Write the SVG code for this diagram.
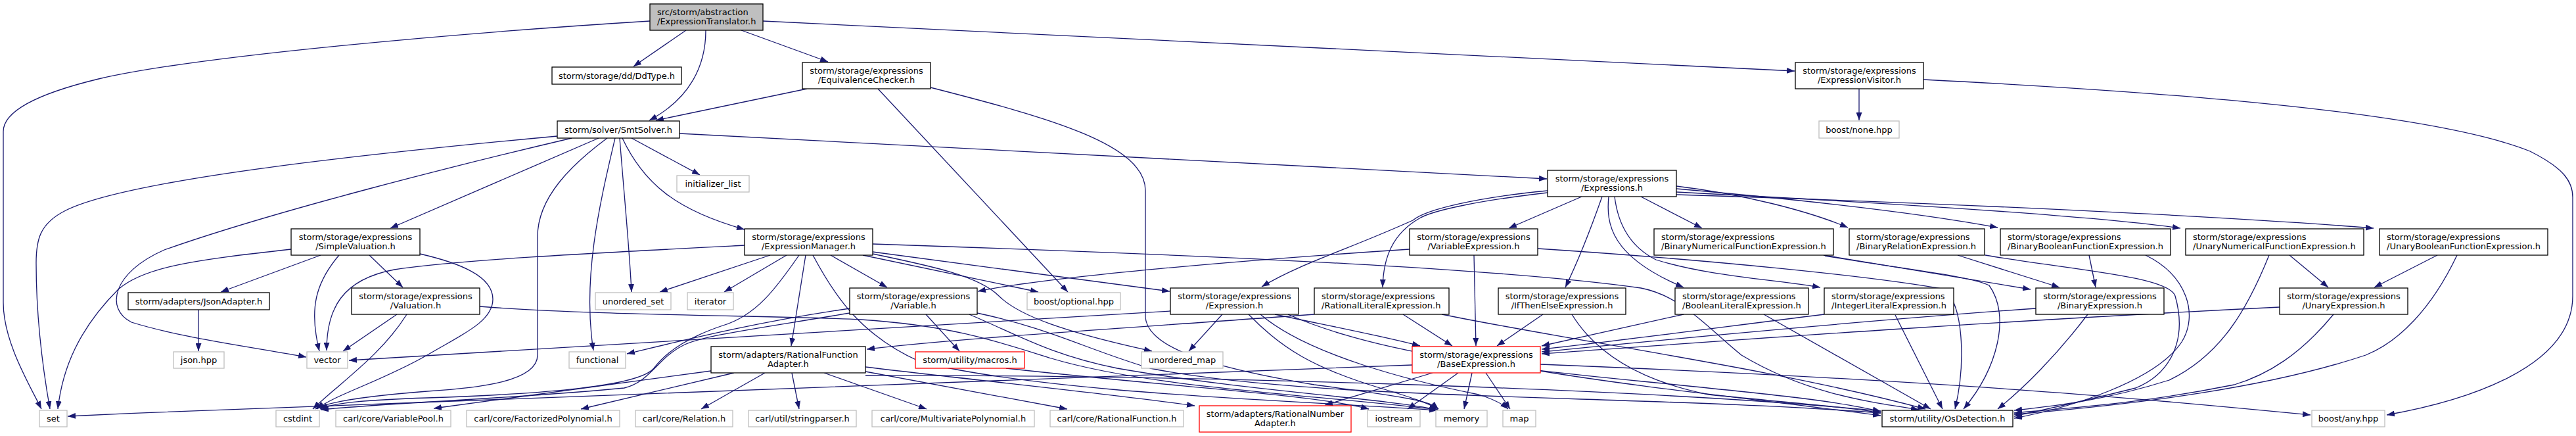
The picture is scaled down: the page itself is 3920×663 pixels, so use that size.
<svg xmlns="http://www.w3.org/2000/svg" width="3920" height="663" viewBox="0 0 3920 663">
<defs>
<style>
.e{fill:none;stroke:#191970;stroke-width:1.3;marker-end:url(#ah)}
.b rect{fill:#fff;stroke:#000;stroke-width:1.3}
.g rect{fill:#fff;stroke:#bfbfbf;stroke-width:1.3}
.r rect{fill:#fff;stroke:#ff0000;stroke-width:1.3}
.root rect{fill:#bfbfbf;stroke:#000;stroke-width:1.3}
text{font-family:"DejaVu Sans","Liberation Sans",sans-serif;font-size:13px;fill:#000}
.c{text-anchor:middle}
</style>
<marker id="ah" viewBox="0 0 12 9" refX="12" refY="4.5" markerWidth="12" markerHeight="9" markerUnits="userSpaceOnUse" orient="auto"><path d="M0,0L12,4.5L0,9z" fill="#191970"/></marker>
</defs>
<rect width="3920" height="663" fill="#fff"/>
<g id="connectors">
<path class="e" d="M989,32 C700,50 300,85 150,120 C55,143 5,170 5,200 L5,460 C5,520 45,585 63,622"/>
<path class="e" d="M1044,46 L964,101"/>
<path class="e" d="M1074,46 C1074,100 1050,150 988,183"/>
<path class="e" d="M1128,46 L1260,94"/>
<path class="e" d="M1161,32 L2731,108"/>
<path class="e" d="M1228,135 L998,183"/>
<path class="e" d="M1336,135 L1625,444"/>
<path class="e" d="M1416,133 C1600,180 1743,220 1743,290 L1743,480 C1743,530 1850,560 2000,585 C2150,605 2175,610 2189,622"/>
<path class="e" d="M848,207 C600,230 200,270 100,320 C60,340 55,365 55,400 C55,480 65,560 76,622"/>
<path class="e" d="M870,210 C700,250 420,320 250,380 C170,415 160,470 200,490 C280,515 400,530 466,543"/>
<path class="e" d="M911,210 L594,347"/>
<path class="e" d="M924,210 C870,250 818,300 818,360 L818,540 C818,580 730,590 650,595 C560,602 500,610 480,622"/>
<path class="e" d="M936,210 C915,300 885,420 903,533"/>
<path class="e" d="M943,210 C950,300 958,380 961,444"/>
<path class="e" d="M947,210 C980,280 1030,320 1133,349"/>
<path class="e" d="M961,210 L1065,266"/>
<path class="e" d="M1034,203 L2354,272"/>
<path class="e" d="M443,379 C300,395 220,405 180,440 C120,500 95,560 88,622"/>
<path class="e" d="M488,388 L336,444"/>
<path class="e" d="M516,388 C480,430 470,470 486,534"/>
<path class="e" d="M562,388 L613,437"/>
<path class="e" d="M639,386 C700,400 750,420 750,455 C750,490 700,510 650,540 C580,580 510,600 482,622"/>
<path class="e" d="M302,471 L302,534"/>
<path class="e" d="M604,478 L522,534"/>
<path class="e" d="M619,478 C580,540 520,580 476,622"/>
<path class="e" d="M730,466 C900,480 1200,480 1310,486 C1450,495 1520,520 1600,545 C1750,590 2000,600 2188,623"/>
<path class="e" d="M1133,373 C900,385 700,395 600,410 C520,425 497,470 497,533"/>
<path class="e" d="M1172,388 L1004,444"/>
<path class="e" d="M1197,388 L1102,444"/>
<path class="e" d="M1216,388 C1180,440 1150,480 1100,495 C1040,515 1010,540 995,560 C970,590 800,600 650,605 C560,608 510,612 487,622"/>
<path class="e" d="M1226,388 L1204,526"/>
<path class="e" d="M1237,388 C1270,450 1310,510 1400,550 C1600,600 2000,610 2187,624"/>
<path class="e" d="M1264,388 L1350,437"/>
<path class="e" d="M1313,388 L1580,444"/>
<path class="e" d="M1328,383 L1780,443"/>
<path class="e" d="M1328,386 C1420,405 1490,420 1520,450 C1550,480 1620,505 1753,534"/>
<path class="e" d="M1328,371 C1900,390 2300,410 2497,438 C2560,450 2600,500 2650,540 C2750,600 2850,612 2920,623"/>
<path class="e" d="M1293,469 C1150,490 1050,515 954,538"/>
<path class="e" d="M1293,476 C1150,500 1070,510 1040,525 C1000,545 990,580 950,590 C800,605 600,612 488,623"/>
<path class="e" d="M1409,478 L1460,534"/>
<path class="e" d="M1475,478 C1550,510 1600,540 1700,560 C1900,595 2100,605 2187,623"/>
<path class="e" d="M1487,476 C1600,500 1650,530 1750,560 C2000,610 2500,600 2862,628"/>
<path class="e" d="M1781,473 L531,548"/>
<path class="e" d="M1860,478 L1809,534"/>
<path class="e" d="M1940,478 C2020,495 2100,510 2161,526"/>
<path class="e" d="M1900,478 C1950,530 2000,560 2100,590 C2150,605 2170,612 2189,622"/>
<path class="e" d="M1918,478 C1990,540 2150,580 2250,600 C2270,606 2285,613 2295,622"/>
<path class="e" d="M1960,478 C2100,540 2300,560 2500,580 C2700,600 2800,610 2862,626"/>
<path class="e" d="M2149,555 C1500,580 800,600 103,633"/>
<path class="e" d="M2180,567 L2016,616"/>
<path class="e" d="M2219,567 L2142,622"/>
<path class="e" d="M2240,567 L2228,622"/>
<path class="e" d="M2261,567 L2298,622"/>
<path class="e" d="M2344,564 C2500,590 2700,610 2862,632"/>
<path class="e" d="M2344,554 C3000,580 3300,610 3516,631"/>
<path class="e" d="M1082,564 L660,621"/>
<path class="e" d="M1117,567 L884,622"/>
<path class="e" d="M1164,567 L1067,622"/>
<path class="e" d="M1205,567 L1216,622"/>
<path class="e" d="M1254,567 L1410,622"/>
<path class="e" d="M1317,565 L1624,622"/>
<path class="e" d="M1317,558 C1500,580 1700,600 1818,617"/>
<path class="e" d="M1317,571 C1800,570 2500,590 2862,625"/>
<path class="e" d="M1531,560 C1800,590 2000,600 2083,622"/>
<path class="e" d="M2243,388 L2246,526"/>
<path class="e" d="M2145,379 C1900,395 1600,420 1488,443"/>
<path class="e" d="M2340,378 C2600,395 2850,420 2960,440 C2990,470 2990,560 2975,622"/>
<path class="e" d="M2135,478 L2210,526"/>
<path class="e" d="M2194,478 C2400,520 2700,560 2930,622"/>
<path class="e" d="M2000,478 C1700,500 1450,515 1319,531"/>
<path class="e" d="M2348,478 L2278,526"/>
<path class="e" d="M2392,478 C2430,540 2500,580 2600,600 C2750,615 2820,620 2862,628"/>
<path class="e" d="M2562,478 L2346,526"/>
<path class="e" d="M2684,478 L2938,622"/>
<path class="e" d="M2776,478 C2600,500 2450,520 2346,531"/>
<path class="e" d="M2884,479 L2956,622"/>
<path class="e" d="M2775,388 L3090,440"/>
<path class="e" d="M2777,389 C2900,410 3000,420 3027,434 C3060,480 3040,560 2988,622"/>
<path class="e" d="M2979,388 L3134,437"/>
<path class="e" d="M3021,388 C3150,410 3300,420 3310,450 C3330,520 3300,570 3250,590 C3150,615 3100,625 3065,633"/>
<path class="e" d="M3179,388 L3189,437"/>
<path class="e" d="M3265,388 C3330,420 3345,480 3320,520 C3280,580 3150,620 3065,636"/>
<path class="e" d="M3098,469 C2800,490 2500,520 2346,535"/>
<path class="e" d="M3177,478 C3130,540 3080,590 3040,622"/>
<path class="e" d="M3484,388 L3543,437"/>
<path class="e" d="M3453,388 C3420,470 3380,540 3301,578 C3200,610 3120,618 3065,624"/>
<path class="e" d="M3709,388 L3613,437"/>
<path class="e" d="M3739,388 C3700,470 3650,520 3600,540 C3450,590 3250,615 3065,630"/>
<path class="e" d="M3469,467 C3000,490 2600,520 2346,538"/>
<path class="e" d="M3551,478 C3500,540 3450,570 3400,585 C3250,615 3150,620 3065,628"/>
<path class="e" d="M2829,135 L2829,183"/>
<path class="e" d="M2927,121 C3300,140 3700,170 3850,230 C3900,255 3915,275 3915,300 L3915,450 C3915,560 3750,610 3632,631"/>
<path class="e" d="M2355,290 C2250,300 2170,318 2150,335 C2050,380 1980,400 1920,436"/>
<path class="e" d="M2355,293 C2250,305 2180,320 2160,332 C2120,355 2105,390 2104,437"/>
<path class="e" d="M2407,299 L2296,347"/>
<path class="e" d="M2438,299 C2420,350 2400,400 2382,437"/>
<path class="e" d="M2448,299 C2444,340 2450,390 2562,437"/>
<path class="e" d="M2457,299 C2462,340 2480,375 2520,395 C2600,420 2700,425 2770,437"/>
<path class="e" d="M2497,299 L2590,347"/>
<path class="e" d="M2551,283 C2650,295 2750,320 2812,346"/>
<path class="e" d="M2551,287 C2700,300 2900,320 3040,346"/>
<path class="e" d="M2551,292 C2900,310 3200,330 3318,347"/>
<path class="e" d="M2551,296 C3000,310 3400,330 3612,347"/>
</g>
<g id="root" class="root"><rect x="989" y="6" width="172" height="40"/><text x="1000" y="22.5">src/storm/abstraction</text><text x="1000" y="37">/ExpressionTranslator.h</text></g>
<g id="ddtype" class="b"><rect x="840" y="102" width="197" height="26"/><text class="c" x="938.5" y="119.5">storm/storage/dd/DdType.h</text></g>
<g id="equivalencechecker" class="b"><rect x="1221" y="95" width="195" height="40"/><text class="c" x="1318.5" y="111.5">storm/storage/expressions</text><text class="c" x="1318.5" y="126">/EquivalenceChecker.h</text></g>
<g id="expressionvisitor" class="b"><rect x="2732" y="95" width="195" height="40"/><text class="c" x="2829.5" y="111.5">storm/storage/expressions</text><text class="c" x="2829.5" y="126">/ExpressionVisitor.h</text></g>
<g id="boostnone" class="g"><rect x="2768" y="184" width="122" height="26"/><text class="c" x="2829" y="201.5">boost/none.hpp</text></g>
<g id="smtsolver" class="b"><rect x="848" y="184" width="186" height="26"/><text class="c" x="941" y="201.5">storm/solver/SmtSolver.h</text></g>
<g id="initializerlist" class="g"><rect x="1030" y="267" width="110" height="25"/><text class="c" x="1085" y="284">initializer_list</text></g>
<g id="expressions" class="b"><rect x="2355" y="259" width="196" height="40"/><text class="c" x="2453" y="275.5">storm/storage/expressions</text><text class="c" x="2453" y="290">/Expressions.h</text></g>
<g id="simplevaluation" class="b"><rect x="443" y="348" width="196" height="40"/><text class="c" x="541" y="364.5">storm/storage/expressions</text><text class="c" x="541" y="379">/SimpleValuation.h</text></g>
<g id="expressionmanager" class="b"><rect x="1133" y="348" width="195" height="40"/><text class="c" x="1230.5" y="364.5">storm/storage/expressions</text><text class="c" x="1230.5" y="379">/ExpressionManager.h</text></g>
<g id="variableexpression" class="b"><rect x="2145" y="348" width="195" height="40"/><text class="c" x="2242.5" y="364.5">storm/storage/expressions</text><text class="c" x="2242.5" y="379">/VariableExpression.h</text></g>
<g id="binarynumerical" class="b"><rect x="2517" y="348" width="273" height="40"/><text x="2528" y="364.5">storm/storage/expressions</text><text x="2528" y="379">/BinaryNumericalFunctionExpression.h</text></g>
<g id="binaryrelation" class="b"><rect x="2814" y="348" width="206" height="40"/><text x="2825" y="364.5">storm/storage/expressions</text><text x="2825" y="379">/BinaryRelationExpression.h</text></g>
<g id="binaryboolean" class="b"><rect x="3044" y="348" width="259" height="40"/><text x="3055" y="364.5">storm/storage/expressions</text><text x="3055" y="379">/BinaryBooleanFunctionExpression.h</text></g>
<g id="unarynumerical" class="b"><rect x="3326" y="348" width="271" height="40"/><text x="3337" y="364.5">storm/storage/expressions</text><text x="3337" y="379">/UnaryNumericalFunctionExpression.h</text></g>
<g id="unaryboolean" class="b"><rect x="3621" y="348" width="256" height="40"/><text x="3632" y="364.5">storm/storage/expressions</text><text x="3632" y="379">/UnaryBooleanFunctionExpression.h</text></g>
<g id="jsonadapter" class="b"><rect x="195" y="445" width="215" height="26"/><text class="c" x="302.5" y="462.5">storm/adapters/JsonAdapter.h</text></g>
<g id="valuation" class="b"><rect x="535" y="438" width="195" height="40"/><text class="c" x="632.5" y="454.5">storm/storage/expressions</text><text class="c" x="632.5" y="469">/Valuation.h</text></g>
<g id="unorderedset" class="g"><rect x="906" y="445" width="115" height="26"/><text class="c" x="963.5" y="462.5">unordered_set</text></g>
<g id="iterator" class="g"><rect x="1046" y="445" width="70" height="26"/><text class="c" x="1081" y="462.5">iterator</text></g>
<g id="variable" class="b"><rect x="1293" y="438" width="194" height="40"/><text class="c" x="1390" y="454.5">storm/storage/expressions</text><text class="c" x="1390" y="469">/Variable.h</text></g>
<g id="boostoptional" class="g"><rect x="1563" y="445" width="142" height="26"/><text class="c" x="1634" y="462.5">boost/optional.hpp</text></g>
<g id="expression" class="b"><rect x="1781" y="438" width="195" height="40"/><text class="c" x="1878.5" y="454.5">storm/storage/expressions</text><text class="c" x="1878.5" y="469">/Expression.h</text></g>
<g id="rationalliteral" class="b"><rect x="2000" y="438" width="205" height="40"/><text x="2011" y="454.5">storm/storage/expressions</text><text x="2011" y="469">/RationalLiteralExpression.h</text></g>
<g id="ifthenelse" class="b"><rect x="2280" y="438" width="194" height="40"/><text class="c" x="2377" y="454.5">storm/storage/expressions</text><text class="c" x="2377" y="469">/IfThenElseExpression.h</text></g>
<g id="booleanliteral" class="b"><rect x="2549" y="438" width="203" height="40"/><text x="2560" y="454.5">storm/storage/expressions</text><text x="2560" y="469">/BooleanLiteralExpression.h</text></g>
<g id="integerliteral" class="b"><rect x="2776" y="438" width="197" height="40"/><text x="2787" y="454.5">storm/storage/expressions</text><text x="2787" y="469">/IntegerLiteralExpression.h</text></g>
<g id="binaryexpression" class="b"><rect x="3098" y="438" width="195" height="40"/><text class="c" x="3195.5" y="454.5">storm/storage/expressions</text><text class="c" x="3195.5" y="469">/BinaryExpression.h</text></g>
<g id="unaryexpression" class="b"><rect x="3469" y="438" width="195" height="40"/><text class="c" x="3566.5" y="454.5">storm/storage/expressions</text><text class="c" x="3566.5" y="469">/UnaryExpression.h</text></g>
<g id="jsonhpp" class="g"><rect x="264" y="535" width="77" height="25"/><text class="c" x="302.5" y="552">json.hpp</text></g>
<g id="vector" class="g"><rect x="467" y="535" width="62" height="25"/><text class="c" x="498" y="552">vector</text></g>
<g id="functional" class="g"><rect x="866" y="535" width="86" height="25"/><text class="c" x="909" y="552">functional</text></g>
<g id="rationalfunctionadapter" class="b"><rect x="1082" y="527" width="235" height="40"/><text class="c" x="1199.5" y="543.5">storm/adapters/RationalFunction</text><text class="c" x="1199.5" y="558">Adapter.h</text></g>
<g id="macros" class="r"><rect x="1393" y="535" width="166" height="25"/><text class="c" x="1476" y="552">storm/utility/macros.h</text></g>
<g id="unorderedmap" class="g"><rect x="1737" y="535" width="124" height="25"/><text class="c" x="1799" y="552">unordered_map</text></g>
<g id="baseexpression" class="r"><rect x="2149" y="527" width="195" height="40"/><text class="c" x="2246.5" y="543.5">storm/storage/expressions</text><text class="c" x="2246.5" y="558">/BaseExpression.h</text></g>
<g id="set" class="g"><rect x="60" y="624" width="42" height="25"/><text class="c" x="81" y="641">set</text></g>
<g id="cstdint" class="g"><rect x="420" y="624" width="66" height="25"/><text class="c" x="453" y="641">cstdint</text></g>
<g id="variablepool" class="g"><rect x="511" y="624" width="175" height="25"/><text class="c" x="598.5" y="641">carl/core/VariablePool.h</text></g>
<g id="factorizedpolynomial" class="g"><rect x="710" y="624" width="233" height="25"/><text class="c" x="826.5" y="641">carl/core/FactorizedPolynomial.h</text></g>
<g id="relation" class="g"><rect x="967" y="624" width="148" height="25"/><text class="c" x="1041" y="641">carl/core/Relation.h</text></g>
<g id="stringparser" class="g"><rect x="1139" y="624" width="164" height="25"/><text class="c" x="1221" y="641">carl/util/stringparser.h</text></g>
<g id="multivariatepolynomial" class="g"><rect x="1327" y="624" width="247" height="25"/><text class="c" x="1450.5" y="641">carl/core/MultivariatePolynomial.h</text></g>
<g id="rationalfunction" class="g"><rect x="1598" y="624" width="203" height="25"/><text class="c" x="1699.5" y="641">carl/core/RationalFunction.h</text></g>
<g id="rationalnumberadapter" class="r"><rect x="1825" y="617" width="231" height="40"/><text class="c" x="1940.5" y="633.5">storm/adapters/RationalNumber</text><text class="c" x="1940.5" y="648">Adapter.h</text></g>
<g id="iostream" class="g"><rect x="2081" y="624" width="80" height="25"/><text class="c" x="2121" y="641">iostream</text></g>
<g id="memory" class="g"><rect x="2185" y="624" width="78" height="25"/><text class="c" x="2224" y="641">memory</text></g>
<g id="map" class="g"><rect x="2287" y="624" width="50" height="25"/><text class="c" x="2312" y="641">map</text></g>
<g id="osdetection" class="b"><rect x="2864" y="624" width="199" height="25"/><text class="c" x="2963.5" y="641">storm/utility/OsDetection.h</text></g>
<g id="boostany" class="g"><rect x="3518" y="624" width="111" height="25"/><text class="c" x="3573.5" y="641">boost/any.hpp</text></g>
</svg>
